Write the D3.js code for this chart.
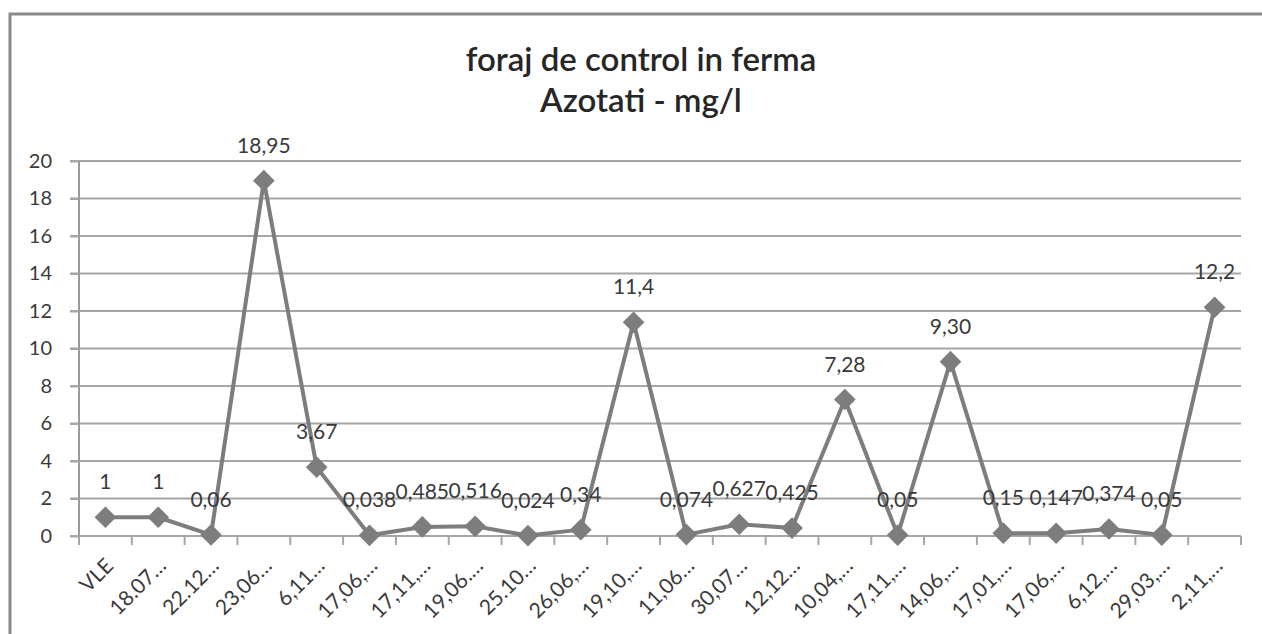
<!DOCTYPE html>
<html>
<head>
<meta charset="utf-8">
<script src="https://cdn.jsdelivr.net/npm/d3@7"></script>
<style>
  body { margin: 0; background: #fff; }
  svg { display: block; }
  text { font-family: Lato, "Liberation Sans", sans-serif; fill: #3a3a3a; }
</style>
</head>
<body>
<script>
// categories (dates truncated as in the original)
var categories = ["VLE", "18.07…", "22.12…", "23,06…", "6,11…", "17,06,…", "17,11,…",
  "19,06.…", "25.10…", "26,06,…", "19,10,…", "11,06…", "30,07…", "12,12…", "10,04,…",
  "17,11,…", "14,06,…", "17,01,…", "17,06,…", "6,12,…", "29,03,…", "2,11,…"];
// nitrate values mg/l
var values = [1, 1, 0.06, 18.95, 3.67, 0.038, 0.485, 0.516, 0.024, 0.34, 11.4,
  0.074, 0.627, 0.425, 7.28, 0.05, 9.30, 0.15, 0.147, 0.374, 0.05, 12.2];
// data labels as printed
var labels = ["1", "1", "0,06", "18,95", "3,67", "0,038", "0,485", "0,516", "0,024", "0,34", "11,4",
  "0,074", "0,627", "0,425", "7,28", "0,05", "9,30", "0,15", "0,147", "0,374", "0,05", "12,2"];
var yTicks = [0, 2, 4, 6, 8, 10, 12, 14, 16, 18, 20];

var W = 1262, H = 634;
var mLeft = 79, mRight = 1241, mTop = 161, mBottom = 536;

var svg = d3.select("body").append("svg")
  .attr("width", W)
  .attr("height", H);

svg.append("rect").attr("width", W).attr("height", H).attr("fill", "#fff");

// outer chart frame (top + left edge visible)
svg.append("path")
  .attr("d", "M10," + H + "V14H" + W)
  .attr("fill", "none")
  .attr("stroke", "#8a8a8a")
  .attr("stroke-width", 3);

// title
svg.append("text")
  .attr("x", 641).attr("y", 71)
  .attr("text-anchor", "middle")
  .style("font-size", "33px")
  .style("font-weight", "600")
  .style("fill", "#262626")
  .text("foraj de control in ferma");
svg.append("text")
  .attr("x", 641).attr("y", 112)
  .attr("text-anchor", "middle")
  .style("font-size", "33px")
  .style("font-weight", "600")
  .style("fill", "#262626")
  .text("Azotati - mg/l");

// scales
var x = d3.scaleBand().domain(d3.range(categories.length)).range([mLeft, mRight]);
var y = d3.scaleLinear().domain([0, 20]).range([mBottom, mTop]);

// gridlines
svg.append("g")
  .selectAll("line")
  .data(yTicks)
  .join("line")
  .attr("x1", mLeft - 9).attr("x2", mRight)
  .attr("y1", function(d) { return y(d); })
  .attr("y2", function(d) { return y(d); })
  .attr("stroke", "#a6a6a6")
  .attr("stroke-width", 2);

// y axis
var yAxis = svg.append("g")
  .attr("transform", "translate(" + mLeft + ",0)")
  .call(d3.axisLeft(y).tickValues(yTicks).tickSize(9).tickPadding(18));
yAxis.select(".domain").attr("stroke", "#9a9a9a").attr("stroke-width", 2)
  .attr("d", "M0," + mTop + "V" + (mBottom + 9));
yAxis.selectAll(".tick line").attr("stroke", "#a6a6a6").attr("stroke-width", 2);
yAxis.selectAll("text").style("font-size", "20px").style("font-family", "Lato, sans-serif").attr("fill", "#3a3a3a");

// x axis tick marks at band edges
var edges = d3.range(categories.length + 1).map(function(i) { return mLeft + i * x.step(); });
svg.append("g")
  .selectAll("line")
  .data(edges)
  .join("line")
  .attr("x1", function(d) { return d; }).attr("x2", function(d) { return d; })
  .attr("y1", mBottom).attr("y2", mBottom + 9)
  .attr("stroke", "#a6a6a6")
  .attr("stroke-width", 2);

// x labels rotated
svg.append("g")
  .selectAll("text")
  .data(categories)
  .join("text")
  .attr("transform", function(d, i) {
    return "translate(" + (x(i) + x.bandwidth() / 2 + 4) + "," + (mBottom + 26) + ") rotate(-45)";
  })
  .attr("text-anchor", "end")
  .attr("dy", "0.35em")
  .style("font-size", "21px")
  .text(function(d) { return d; });

// line
var line = d3.line()
  .x(function(d, i) { return x(i) + x.bandwidth() / 2; })
  .y(function(d) { return y(d); });

svg.append("path")
  .datum(values)
  .attr("d", line)
  .attr("fill", "none")
  .attr("stroke", "#7d7d7d")
  .attr("stroke-width", 4)
  .attr("stroke-linejoin", "round");

// markers
svg.append("g")
  .selectAll("path")
  .data(values)
  .join("path")
  .attr("transform", function(d, i) {
    return "translate(" + (x(i) + x.bandwidth() / 2) + "," + y(d) + ")";
  })
  .attr("d", d3.symbol().type(d3.symbolDiamond2).size(300))
  .attr("fill", "#7d7d7d");

// data labels
svg.append("g")
  .selectAll("text")
  .data(values)
  .join("text")
  .attr("x", function(d, i) { return x(i) + x.bandwidth() / 2; })
  .attr("y", function(d) { return y(d) - 28; })
  .attr("text-anchor", "middle")
  .style("font-size", "21px")
  .text(function(d, i) { return labels[i]; });
</script>
</body>
</html>
